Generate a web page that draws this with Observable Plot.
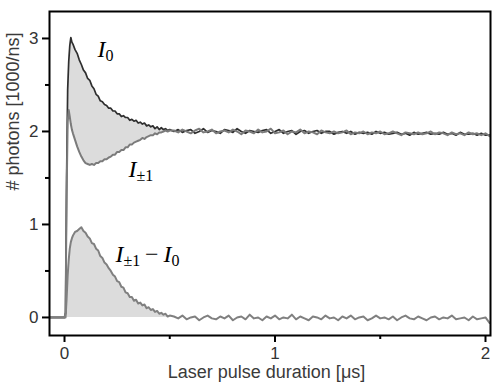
<!DOCTYPE html>
<html><head><meta charset="utf-8">
<script src="https://cdn.jsdelivr.net/npm/d3@7"></script>
<script src="https://cdn.jsdelivr.net/npm/@observablehq/plot@0.6"></script>
<style>body{margin:0;background:#fff} svg{display:block}</style>
</head><body><div id="chart"></div>
<script>
// time samples [µs]
const tEarly = [-0.07,-0.04,-0.02,0,0.005,0.01,0.015,0.02,0.025,0.03,0.035,
 0.04,0.05,0.06,0.07,0.08,0.09,0.10,0.11,0.12,0.13,0.14,0.15,0.16,0.17,0.18,0.19,0.20,
 0.21,0.22,0.23,0.24,0.25,0.26,0.27,0.28,0.29,0.30,0.31,0.32,0.33,0.34,0.35,0.36,0.37,
 0.38,0.39,0.40,0.41,0.42,0.43,0.44,0.45,0.46,0.47,0.48,0.49,0.50];
const tTail = [0.52,0.54,0.56,0.58,0.60,0.62,0.64,0.66,0.68,0.70,
 0.72,0.74,0.76,0.78,0.80,0.82,0.84,0.86,0.88,0.90,
 0.92,0.94,0.96,0.98,1.00,1.02,1.04,1.06,1.08,1.10,
 1.12,1.14,1.16,1.18,1.20,1.22,1.24,1.26,1.28,1.30,
 1.32,1.34,1.36,1.38,1.40,1.42,1.44,1.46,1.48,1.50,
 1.52,1.54,1.56,1.58,1.60,1.62,1.64,1.66,1.68,1.70,
 1.72,1.74,1.76,1.78,1.80,1.82,1.84,1.86,1.88,1.90,
 1.92,1.94,1.96,1.98,2.00,2.02];

// I0 [1000/ns]
const i0Early = [0,0,0,0,0.05,1.5,2.45,2.75,2.92,3.01,2.96,
 2.94,2.88,2.84,2.77,2.72,2.66,2.63,2.57,2.55,2.49,2.46,2.40,2.38,2.33,2.32,2.29,2.28,
 2.25,2.25,2.22,2.22,2.19,2.19,2.16,2.17,2.15,2.15,2.12,2.13,2.11,2.12,2.09,2.10,2.08,
 2.09,2.06,2.07,2.05,2.06,2.03,2.05,2.02,2.04,2.02,2.03,2.01,2.02];
const i0Tail = [2.00,2.02,1.99,2.01,2.02,1.98,2.00,2.03,1.99,2.01,
 2.00,1.98,2.02,2.01,1.99,2.03,2.00,1.98,2.01,2.00,
 1.99,2.01,2.02,1.98,2.00,2.02,1.98,2.00,2.01,1.97,
 2.00,2.01,1.98,2.00,2.01,1.98,2.00,2.00,1.97,1.99,
 2.00,1.98,2.00,1.97,1.99,1.98,1.99,1.97,2.00,1.98,
 1.99,1.97,1.98,1.99,1.97,1.98,1.96,1.99,1.97,1.98,
 1.99,1.97,1.98,1.97,1.99,1.97,1.98,1.96,1.99,1.97,
 1.97,1.98,1.96,1.98,1.96,1.96];

// I±1 [1000/ns]
const i1Early = [0,0,0,0,0.05,1.3,2.1,2.23,2.16,2.08,2.02,
 1.98,1.91,1.84,1.78,1.73,1.69,1.66,1.65,1.64,1.65,1.64,1.66,1.66,1.68,1.68,1.70,1.70,
 1.72,1.73,1.75,1.75,1.78,1.78,1.80,1.80,1.83,1.83,1.86,1.86,1.88,1.89,1.90,1.91,1.93,
 1.92,1.94,1.95,1.96,1.96,1.98,1.97,1.99,1.99,2.00,2.01,2.00,2.01];
const i1Tail = [2.01,1.99,2.02,2.00,1.98,2.01,2.03,1.99,2.00,2.02,
 1.98,2.00,2.01,1.99,2.02,2.00,1.97,2.01,2.00,1.98,
 2.02,1.99,2.00,2.03,1.98,1.99,2.01,1.97,2.00,1.99,
 2.02,1.98,2.00,1.99,1.97,2.01,1.99,1.98,2.00,1.98,
 1.99,2.01,1.97,1.99,1.98,2.00,1.97,1.99,1.98,2.00,
 1.97,1.98,2.00,1.98,1.96,1.99,1.98,1.97,1.99,1.97,
 1.98,2.00,1.97,1.99,1.98,1.96,1.99,1.97,1.98,1.96,
 1.99,1.97,1.98,1.96,1.98,1.95];

// I±1 − I0 difference curve [1000/ns]
const dEarly = [0,0,0,0,0,0.2,0.45,0.62,0.74,0.81,0.85,
 0.88,0.92,0.93,0.95,0.97,0.93,0.91,0.87,0.85,0.80,0.79,0.74,0.72,0.66,0.64,0.59,0.57,
 0.53,0.50,0.46,0.44,0.39,0.38,0.33,0.32,0.27,0.26,0.22,0.22,0.18,0.19,0.15,0.16,0.13,
 0.14,0.10,0.11,0.08,0.09,0.06,0.07,0.04,0.05,0.03,0.04,0.01,0.02];
const dTail = [0.01,-0.01,0.02,-0.02,0.00,0.01,-0.03,0.00,0.02,-0.01,
 -0.02,0.01,-0.01,0.02,-0.03,0.00,0.01,-0.02,0.03,-0.01,
 0.00,-0.03,0.01,-0.01,0.02,-0.02,0.00,-0.01,0.03,-0.02,
 0.01,-0.01,-0.03,0.01,0.00,-0.02,0.02,-0.01,0.00,-0.03,
 0.01,-0.01,0.02,-0.02,0.00,0.01,-0.03,-0.01,0.02,-0.01,
 0.00,-0.02,0.01,-0.03,0.00,0.02,-0.01,-0.02,0.01,-0.01,
 -0.03,0.00,0.01,-0.02,0.00,-0.01,0.02,-0.02,-0.01,0.00,
 -0.03,0.01,-0.02,-0.01,0.00,-0.06];

const xTicks = [0, 1, 2];
const xMinor = [0.5, 1.5];
const yTicks = [0, 1, 2, 3];
const yMinor = [0.5, 1.5, 2.5];
const xTitle = "Laser pulse duration [μs]";
const yTitle = "# photons [1000/ns]";
const annText = ["I0", "I±1", "I±1 − I0"];
const annT = [0.157, 0.304, 0.242];
const annV = [2.80, 1.505, 0.60];

const time = tEarly.concat(tTail);
const I0 = i0Early.concat(i0Tail);
const I1 = i1Early.concat(i1Tail);
const D = dEarly.concat(dTail);
const data = time.map((t, i) => ({t, i0: I0[i], i1: I1[i], d: D[i]}));
const fillData = data.filter(d => d.t <= 0.5);
const ann = annText.map((s, i) => ({s, t: annT[i], v: annV[i]}));

const axisStyle = {stroke: "#000", strokeWidth: 2, fill: "#333", fontSize: 17, label: null};
const fmt = d => String(d);

const plot = Plot.plot({
  width: 498, height: 382,
  marginLeft: 49, marginRight: 8, marginTop: 11, marginBottom: 47,
  x: {domain: [-0.0713, 2.0238]},
  y: {domain: [-0.194, 3.29]},
  style: {fontFamily: "'Liberation Sans', Arial, sans-serif", background: "#fff", color: "#333"},
  marks: [
    Plot.areaY(fillData, {x: "t", y1: "i1", y2: "i0", fill: "#dcdcdc"}),
    Plot.areaY(fillData, {x: "t", y1: 0, y2: "d", fill: "#dcdcdc"}),
    Plot.line(data, {x: "t", y: "i0", stroke: "#2e2e2e", strokeWidth: 1.7}),
    Plot.line(data, {x: "t", y: "i1", stroke: "#7b7b7b", strokeWidth: 2}),
    Plot.line(data, {x: "t", y: "d", stroke: "#808080", strokeWidth: 2}),
    Plot.frame({stroke: "#000", strokeWidth: 2}),
    Plot.axisX({...axisStyle, ticks: xTicks, tickSize: 7, tickPadding: 4, tickFormat: fmt}),
    Plot.axisX({...axisStyle, ticks: xMinor, tickSize: 4, tickFormat: () => ""}),
    Plot.axisY({...axisStyle, ticks: yTicks, tickSize: 7, tickPadding: 4, tickFormat: fmt}),
    Plot.axisY({...axisStyle, ticks: yMinor, tickSize: 4, tickFormat: () => ""}),
    Plot.text([xTitle], {frameAnchor: "bottom", text: d => d, dy: 37, dx: -3.5, fontSize: 18, fill: "#3a3a3a", lineAnchor: "middle"}),
    Plot.text([yTitle], {frameAnchor: "left", text: d => d, rotate: -90, dx: -36, dy: 17, fontSize: 18, fill: "#3a3a3a", lineAnchor: "middle"}),
    Plot.text(ann, {x: "t", y: "v", text: "s", textAnchor: "start", lineAnchor: "bottom",
      fontFamily: "'Liberation Serif', 'Times New Roman', serif", fontSize: 24, fill: "#000"})
  ]
});

// typeset math labels (italic I, upright subscripts)
const parts = {
  "I0": [["I", "it"], ["0", "sub"]],
  "I±1": [["I", "it"], ["±1", "sub"]],
  "I±1 − I0": [["I", "it"], ["±1", "sub"], ["\u2009−\u2009", "rom"], ["I", "it"], ["0", "sub"]]
};
plot.querySelectorAll("text").forEach(el => {
  const p = parts[el.textContent];
  if (!p) return;
  el.textContent = "";
  let sub = false;
  for (const [s, k] of p) {
    const ts = document.createElementNS("http://www.w3.org/2000/svg", "tspan");
    ts.textContent = s;
    ts.setAttribute("font-style", k === "it" ? "italic" : "normal");
    if (k === "sub") { ts.setAttribute("font-size", "16"); if (!sub) ts.setAttribute("dy", "4"); sub = true; }
    else if (sub) { ts.setAttribute("dy", "-4"); sub = false; }
    el.appendChild(ts);
  }
});

document.getElementById("chart").appendChild(plot);
</script>
</body></html>
